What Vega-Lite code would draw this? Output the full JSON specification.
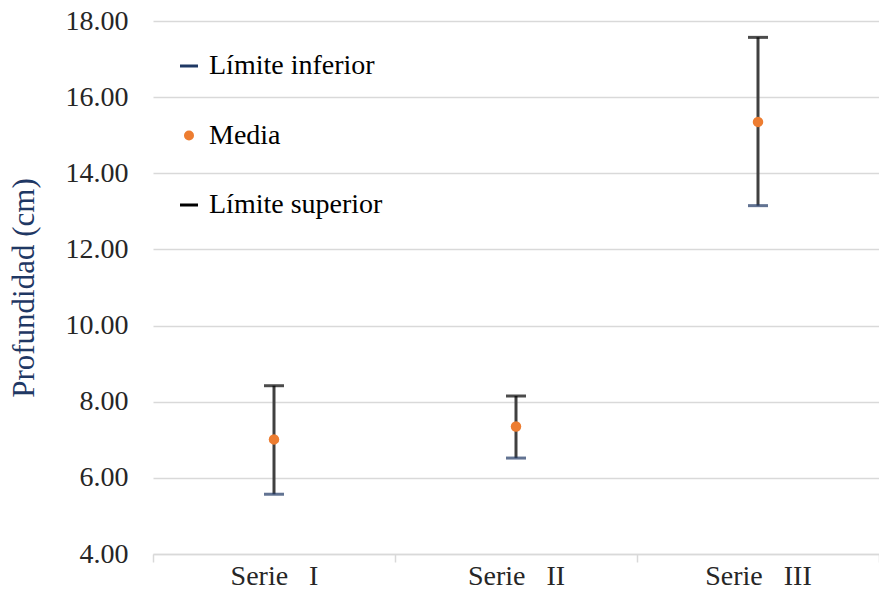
{
  "$schema": "https://vega.github.io/schema/vega-lite/v6.json",
  "autosize": {"type": "none"},
  "width": 726,
  "height": 533,
  "padding": {"left": 153, "top": 21, "right": 0, "bottom": 36},
  "background": "white",
  "config": {
    "font": "Liberation Serif",
    "view": {"stroke": null}
  },
  "data": {
    "values": [
      {"serie": "Serie\u00a0\u00a0\u00a0I", "inferior": 5.57, "media": 7.01, "superior": 8.42},
      {"serie": "Serie\u00a0\u00a0\u00a0II", "inferior": 6.52, "media": 7.35, "superior": 8.15},
      {"serie": "Serie\u00a0\u00a0\u00a0III", "inferior": 13.15, "media": 15.35, "superior": 17.57}
    ]
  },
  "encoding": {
    "x": {
      "field": "serie",
      "type": "nominal",
      "sort": null,
      "scale": {"paddingInner": 0, "paddingOuter": 0},
      "axis": {
        "title": null,
        "labelAngle": 0,
        "labelFont": "Liberation Serif",
        "labelFontSize": 28,
        "labelColor": "#262626",
        "labelPadding": 0,
        "domainColor": "#d9d9d9",
        "domainWidth": 1.5,
        "tickColor": "#d9d9d9",
        "tickSize": 8,
        "tickWidth": 1.5,
        "tickBand": "extent",
        "grid": false
      }
    }
  },
  "layer": [
    {
      "mark": {"type": "rule", "color": "#404040", "strokeWidth": 3},
      "encoding": {
        "y": {
          "field": "inferior",
          "type": "quantitative",
          "scale": {"domain": [4, 18], "nice": false, "zero": false},
          "axis": {
            "title": "Profundidad (cm)",
            "titleFont": "Liberation Serif",
            "titleFontSize": 31,
            "titleFontWeight": "normal",
            "titleColor": "#1f3864",
            "titlePadding": 25,
            "values": [4, 6, 8, 10, 12, 14, 16, 18],
            "format": ".2f",
            "labelFont": "Liberation Serif",
            "labelFontSize": 28,
            "labelColor": "#262626",
            "labelPadding": 25,
            "ticks": false,
            "domain": false,
            "gridColor": "#d9d9d9",
            "gridWidth": 1.5
          }
        },
        "y2": {"field": "superior"}
      }
    },
    {
      "mark": {"type": "tick", "thickness": 3, "size": 20},
      "encoding": {
        "y": {"field": "inferior", "type": "quantitative"},
        "color": {"datum": "Límite inferior"}
      }
    },
    {
      "mark": {"type": "tick", "thickness": 3, "size": 20},
      "encoding": {
        "y": {"field": "superior", "type": "quantitative"},
        "color": {"datum": "Límite superior"}
      }
    },
    {
      "mark": {"type": "point", "filled": true, "opacity": 1, "size": 110},
      "encoding": {
        "y": {"field": "media", "type": "quantitative"},
        "color": {
          "datum": "Media",
          "scale": {
            "domain": ["Límite inferior", "Media", "Límite superior"],
            "range": ["#1f3864", "#ed7d31", "#000000"]
          },
          "legend": {
            "title": null,
            "orient": "none",
            "legendX": 22,
            "legendY": 31,
            "labelFont": "Liberation Serif",
            "labelFontSize": 28,
            "labelLimit": 400,
            "labelColor": "#000000",
            "rowPadding": 41.5,
            "labelOffset": 6,
            "symbolOpacity": 1,
            "encode": {
              "symbols": {
                "update": {
                  "shape": {"signal": "datum.value === 'Media' ? 'circle' : 'stroke'"},
                  "size": {"signal": "datum.value === 'Media' ? 100 : 324"},
                  "fill": {"scale": "color", "field": "value"},
                  "stroke": {"scale": "color", "field": "value"},
                  "strokeWidth": {"signal": "datum.value === 'Media' ? 0 : 3"},
                  "opacity": {"value": 1},
                  "fillOpacity": {"value": 1},
                  "strokeOpacity": {"value": 1}
                }
              }
            }
          }
        }
      }
    }
  ]
}
